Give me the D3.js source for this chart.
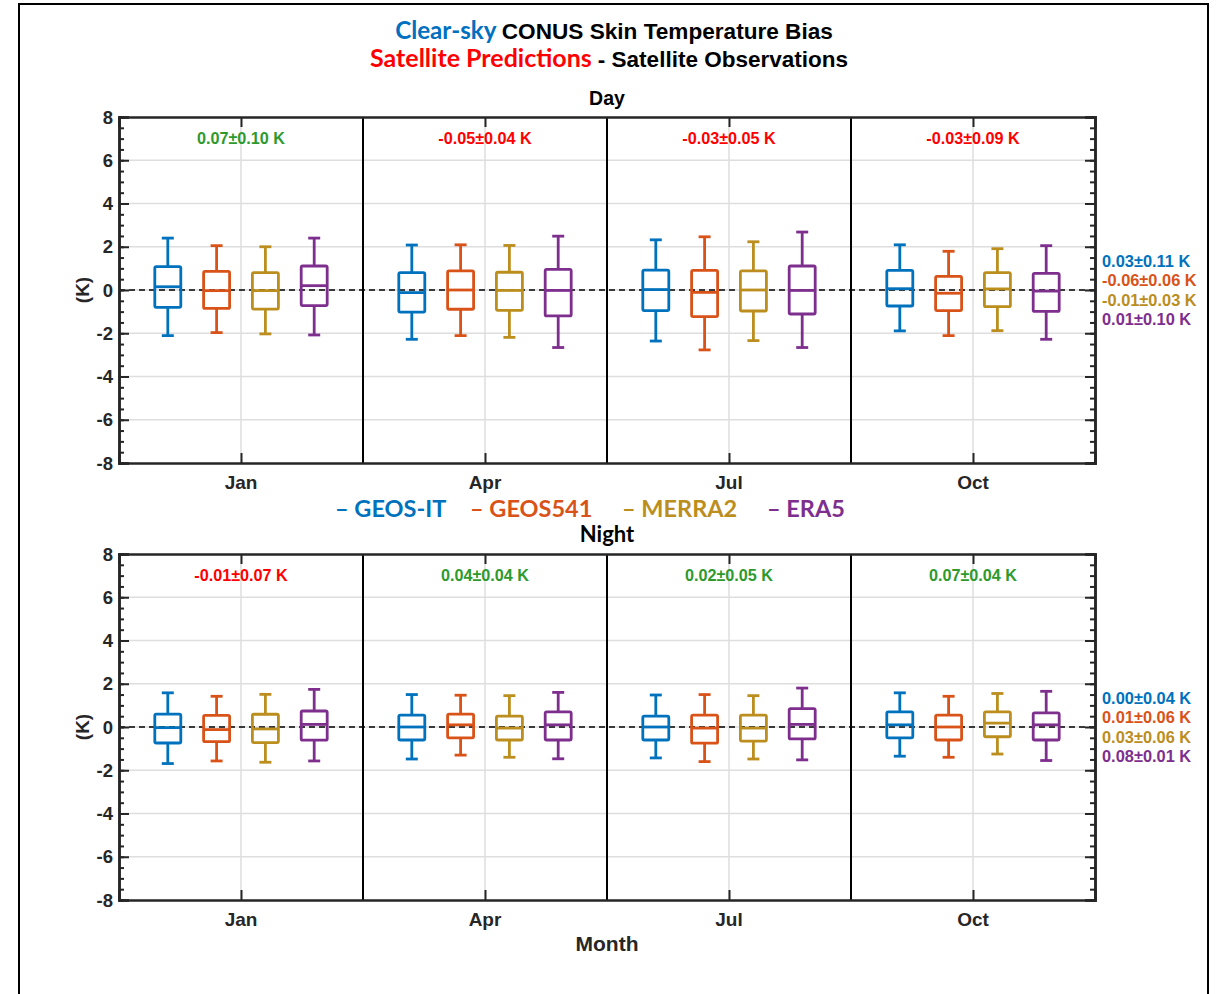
<!DOCTYPE html>
<html>
<head>
<meta charset="utf-8">
<script src="https://cdn.jsdelivr.net/npm/d3@7"></script>
<style>
  body { margin: 0; background: #fff; }
  svg { display: block; }
  .arial { font-family: "Liberation Sans", Arial, sans-serif; font-weight: bold; }
  .calib { font-family: Lato, "Open Sans", sans-serif; font-weight: bold; }
</style>
</head>
<body>
<svg id="chart" width="1218" height="994"></svg>
<script>
var months = ["Jan", "Apr", "Jul", "Oct"];
var models = ["GEOS-IT", "GEOS541", "MERRA2", "ERA5"];
var modelColors = ["#0072BD", "#D95319", "#BB8E1E", "#7E2F8E"];
var yTicks = [-8, -6, -4, -2, 0, 2, 4, 6, 8];

// [whisker low, q1, median, q3, whisker high] for Jan, Apr, Jul, Oct
var dayGeosit  = [[-2.11, -0.80, 0.15, 1.08, 2.40], [-2.28, -1.02, -0.12, 0.80, 2.08], [-2.36, -0.95, 0.02, 0.92, 2.32], [-1.89, -0.74, 0.06, 0.91, 2.09]];
var dayGeos541 = [[-1.97, -0.85, -0.03, 0.86, 2.05], [-2.11, -0.89, 0.00, 0.88, 2.09], [-2.77, -1.23, -0.11, 0.91, 2.46], [-2.11, -0.95, -0.15, 0.63, 1.79]];
var dayMerra2  = [[-2.03, -0.88, -0.03, 0.80, 2.00], [-2.19, -0.94, -0.02, 0.82, 2.06], [-2.34, -0.97, 0.00, 0.88, 2.23], [-1.88, -0.77, 0.05, 0.80, 1.91]];
var dayEra5    = [[-2.08, -0.72, 0.20, 1.11, 2.40], [-2.66, -1.20, -0.02, 0.95, 2.49], [-2.66, -1.11, -0.02, 1.11, 2.68], [-2.28, -0.99, -0.05, 0.77, 2.05]];

var nightGeosit  = [[-1.69, -0.74, -0.03, 0.60, 1.58], [-1.48, -0.60, 0.00, 0.55, 1.50], [-1.43, -0.60, 0.00, 0.50, 1.48], [-1.35, -0.50, 0.10, 0.70, 1.58]];
var nightGeos541 = [[-1.57, -0.68, -0.12, 0.54, 1.42], [-1.30, -0.50, 0.10, 0.60, 1.47], [-1.60, -0.75, -0.05, 0.55, 1.50], [-1.40, -0.60, 0.00, 0.55, 1.42]];
var nightMerra2  = [[-1.63, -0.72, -0.09, 0.59, 1.51], [-1.40, -0.60, -0.05, 0.50, 1.45], [-1.48, -0.65, -0.05, 0.55, 1.45], [-1.25, -0.45, 0.18, 0.70, 1.55]];
var nightEra5    = [[-1.57, -0.61, 0.12, 0.74, 1.74], [-1.47, -0.60, 0.10, 0.70, 1.60], [-1.52, -0.55, 0.12, 0.85, 1.80], [-1.55, -0.60, 0.10, 0.65, 1.65]];

var dayMonthText = ["0.07\u00b10.10 K", "-0.05\u00b10.04 K", "-0.03\u00b10.05 K", "-0.03\u00b10.09 K"];
var dayMonthGood = [true, false, false, false];
var dayModelText = ["0.03\u00b10.11 K", "-0.06\u00b10.06 K", "-0.01\u00b10.03 K", "0.01\u00b10.10 K"];

var nightMonthText = ["-0.01\u00b10.07 K", "0.04\u00b10.04 K", "0.02\u00b10.05 K", "0.07\u00b10.04 K"];
var nightMonthGood = [false, true, true, true];
var nightModelText = ["0.00\u00b10.04 K", "0.01\u00b10.06 K", "0.03\u00b10.06 K", "0.08\u00b10.01 K"];

var svg = d3.select("#chart");
var axisColor = "#262626";
var boxOffsets = [-0.3, -0.1, 0.1, 0.3];

// figure frame
svg.append("rect")
    .attr("x", 19).attr("y", 4).attr("width", 1189).attr("height", 1010)
    .attr("fill", "none").attr("stroke", "#000").attr("stroke-width", 2);

// title
var t1 = svg.append("text").attr("x", 614).attr("y", 39).attr("text-anchor", "middle");
t1.append("tspan").attr("class", "calib").attr("font-size", 24.2).attr("fill", "#0070C0").text("Clear-sky ");
t1.append("tspan").attr("class", "arial").attr("font-size", 22.6).attr("fill", "#000").text("CONUS Skin Temperature Bias");
var t2 = svg.append("text").attr("x", 609).attr("y", 67).attr("text-anchor", "middle");
t2.append("tspan").attr("class", "calib").attr("font-size", 25).attr("fill", "#FF0000").text("Satellite Predictions ");
t2.append("tspan").attr("class", "arial").attr("font-size", 22.5).attr("fill", "#000").text("- Satellite Observations");

function drawPanel(top, title, titleClass, stats, monthText, monthGood, modelText){
    var x = d3.scaleLinear().domain([0.5, 4.5]).range([119, 1095]);
    var y = d3.scaleLinear().domain([-8, 8]).range([top + 346, top]);
    var g = svg.append("g");

    g.append("text").attr("class", titleClass)
        .attr("x", 607).attr("y", top - 12).attr("text-anchor", "middle")
        .attr("font-size", titleClass == "calib" ? 22 : 19.5).attr("fill", "#000").text(title);

    // grid
    g.selectAll(".gy").data(yTicks.slice(1, -1)).enter().append("line")
        .attr("x1", x(0.5)).attr("x2", x(4.5))
        .attr("y1", function(d){ return y(d); }).attr("y2", function(d){ return y(d); })
        .attr("stroke", "#dedede").attr("stroke-width", 1.5);
    g.selectAll(".gx").data(months).enter().append("line")
        .attr("x1", function(d, i){ return x(i + 1); }).attr("x2", function(d, i){ return x(i + 1); })
        .attr("y1", y(8)).attr("y2", y(-8))
        .attr("stroke", "#dedede").attr("stroke-width", 1.5);

    // zero line
    g.append("line")
        .attr("x1", x(0.5)).attr("x2", x(4.5)).attr("y1", y(0)).attr("y2", y(0))
        .attr("stroke", "#000").attr("stroke-width", 1.5).attr("stroke-dasharray", "6,4");

    // separators
    g.selectAll(".sep").data([1.5, 2.5, 3.5]).enter().append("line")
        .attr("x1", function(d){ return x(d); }).attr("x2", function(d){ return x(d); })
        .attr("y1", y(8)).attr("y2", y(-8))
        .attr("stroke", "#000").attr("stroke-width", 2);

    // boxes
    stats.forEach(function(series, k){
        var col = modelColors[k];
        series.forEach(function(s, i){
            var cx = x(i + 1 + boxOffsets[k]);
            var b = g.append("g").attr("stroke", col).attr("stroke-width", 2.8).attr("fill", "none");
            b.append("line").attr("x1", cx).attr("x2", cx).attr("y1", y(s[4])).attr("y2", y(s[3]));
            b.append("line").attr("x1", cx).attr("x2", cx).attr("y1", y(s[1])).attr("y2", y(s[0]));
            b.append("line").attr("x1", cx - 6).attr("x2", cx + 6).attr("y1", y(s[4])).attr("y2", y(s[4]));
            b.append("line").attr("x1", cx - 6).attr("x2", cx + 6).attr("y1", y(s[0])).attr("y2", y(s[0]));
            b.append("rect").attr("x", cx - 13).attr("width", 26)
                .attr("y", y(s[3])).attr("height", y(s[1]) - y(s[3]))
                .attr("rx", 1.5);
            b.append("line").attr("x1", cx - 13).attr("x2", cx + 13).attr("y1", y(s[2])).attr("y2", y(s[2]));
        });
    });

    // axes
    var minor = d3.range(-8, 8.01, 0.5);
    var axL = d3.axisRight(y).tickValues(minor).tickSize(5).tickFormat("");
    var axR = d3.axisLeft(y).tickValues(minor).tickSize(5).tickFormat("");
    var majL = d3.axisRight(y).tickValues(yTicks).tickSize(10).tickFormat("");
    var majR = d3.axisLeft(y).tickValues(yTicks).tickSize(10).tickFormat("");
    var tickX = [1, 2, 3, 4];
    var axT = d3.axisBottom(x).tickValues(tickX).tickSize(10).tickFormat("");
    var axB = d3.axisTop(x).tickValues(tickX).tickSize(10).tickFormat("");
    [[axL, x(0.5), 0], [majL, x(0.5), 0], [axR, x(4.5), 0], [majR, x(4.5), 0], [axT, 0, y(8)], [axB, 0, y(-8)]].forEach(function(a){
        var ag = g.append("g").attr("transform", "translate(" + a[1] + "," + a[2] + ")").call(a[0]);
        ag.selectAll("path,line").attr("stroke", axisColor).attr("stroke-width", 2);
        ag.select(".domain").attr("stroke-width", 2.5);
    });

    // tick labels
    g.selectAll(".yl").data(yTicks).enter().append("text").attr("class", "arial")
        .attr("x", 113).attr("y", function(d){ return y(d) + 6.5; })
        .attr("text-anchor", "end").attr("font-size", 18.5).attr("fill", axisColor)
        .text(function(d){ return d; });
    g.selectAll(".xl").data(months).enter().append("text").attr("class", "arial")
        .attr("x", function(d, i){ return x(i + 1); }).attr("y", y(-8) + 26)
        .attr("text-anchor", "middle").attr("font-size", 19).attr("fill", axisColor)
        .text(function(d){ return d; });
    g.append("text").attr("class", "arial")
        .attr("transform", "translate(89," + y(0) + ") rotate(-90)")
        .attr("text-anchor", "middle").attr("font-size", 19).attr("fill", axisColor).text("(K)");

    // month annotations
    g.selectAll(".mt").data(monthText).enter().append("text").attr("class", "arial")
        .attr("x", function(d, i){ return x(i + 1); }).attr("y", top + 27)
        .attr("text-anchor", "middle").attr("font-size", 16.2)
        .attr("fill", function(d, i){ return monthGood[i] ? "#2E9A2E" : "#FF0000"; })
        .text(function(d){ return d; });

    // model annotations
    g.selectAll(".rt").data(modelText).enter().append("text").attr("class", "arial")
        .attr("x", 1102).attr("y", function(d, i){ return top + 150 + i * 19.4; })
        .attr("font-size", 16.4)
        .attr("fill", function(d, i){ return modelColors[i]; })
        .text(function(d){ return d; });
}

drawPanel(117, "Day", "arial", [dayGeosit, dayGeos541, dayMerra2, dayEra5], dayMonthText, dayMonthGood, dayModelText);
drawPanel(554, "Night", "calib", [nightGeosit, nightGeos541, nightMerra2, nightEra5], nightMonthText, nightMonthGood, nightModelText);

// legend
var legendX = [335, 470, 622, 767];
svg.selectAll(".leg").data(models).enter().append("text").attr("class", "calib")
    .attr("x", function(d, i){ return legendX[i]; }).attr("y", 517)
    .attr("font-size", 23.5).attr("fill", function(d, i){ return modelColors[i]; })
    .text(function(d){ return "\u2013 " + d; });

svg.append("text").attr("class", "arial")
    .attr("x", 607).attr("y", 951).attr("text-anchor", "middle")
    .attr("font-size", 21).attr("fill", axisColor).text("Month");
</script>
</body>
</html>
